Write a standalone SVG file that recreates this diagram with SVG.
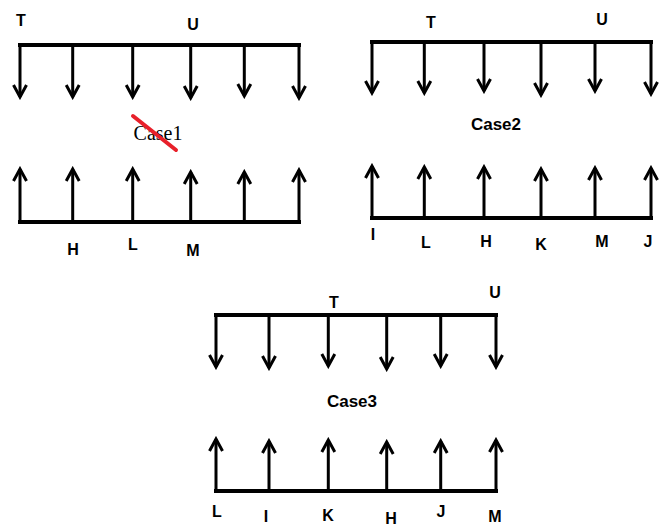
<svg xmlns="http://www.w3.org/2000/svg" width="666" height="526" viewBox="0 0 666 526">
<style>
.bar{stroke:#000;stroke-width:4;fill:none;stroke-linecap:square}
.sh{stroke:#000;stroke-width:3;fill:none;marker-end:url(#ah)}
.lb{font-family:"Liberation Sans",Arial,sans-serif;font-weight:bold;font-size:16px;fill:#000;text-anchor:middle}
.cs{font-family:"Liberation Sans",Arial,sans-serif;font-weight:bold;font-size:17px;fill:#000;text-anchor:middle}
.cs1{font-family:"Liberation Serif","Times New Roman",serif;font-size:20px;fill:#000;text-anchor:middle}
</style>
<defs>
<marker id="ah" viewBox="0 0 16 16" refX="13" refY="8" markerWidth="16" markerHeight="16" orient="auto" markerUnits="userSpaceOnUse">
<path d="M1,1.5 L13,8 L1,14.5" fill="none" stroke="#000" stroke-width="3"/>
</marker>
</defs>
<rect width="666" height="526" fill="#fff"/>
<g id="case1">
<line class="bar" x1="20" y1="45" x2="299" y2="45"/>
<line class="bar" x1="20" y1="222" x2="299" y2="222"/>
<text class="lb" x="21" y="26">T</text>
<text class="lb" x="193" y="30">U</text>
<text class="cs1" x="158" y="140">Case1</text>
<line x1="133" y1="116" x2="176" y2="150" stroke="#e8202a" stroke-width="4" stroke-linecap="round"/>
<text class="lb" x="73" y="255">H</text>
<text class="lb" x="133" y="250">L</text>
<text class="lb" x="193" y="256">M</text>
</g>
<g id="case2">
<line class="bar" x1="372" y1="42" x2="651" y2="42"/>
<line class="bar" x1="372" y1="218" x2="651" y2="218"/>
<text class="lb" x="431" y="28">T</text>
<text class="lb" x="602" y="25">U</text>
<text class="cs" x="496" y="130">Case2</text>
<text class="lb" x="373" y="240">I</text>
<text class="lb" x="426" y="248">L</text>
<text class="lb" x="486" y="247">H</text>
<text class="lb" x="541" y="250">K</text>
<text class="lb" x="602" y="247">M</text>
<text class="lb" x="648" y="247">J</text>
</g>
<g id="case3">
<line class="bar" x1="216" y1="315" x2="496" y2="315"/>
<line class="bar" x1="216" y1="491" x2="496" y2="491"/>
<text class="lb" x="334" y="308">T</text>
<text class="lb" x="495" y="298">U</text>
<text class="cs" x="352" y="407">Case3</text>
<text class="lb" x="217" y="517">L</text>
<text class="lb" x="266" y="522">I</text>
<text class="lb" x="328" y="521">K</text>
<text class="lb" x="391" y="524">H</text>
<text class="lb" x="441" y="517">J</text>
<text class="lb" x="495" y="522">M</text>
</g>
<g id="connectors">
<path class="sh" d="M20,45V97"/><path class="sh" d="M72.7,45V97"/><path class="sh" d="M132.7,45V97"/><path class="sh" d="M190.7,45V98"/><path class="sh" d="M244.3,45V96"/><path class="sh" d="M299,45V98"/>
<path class="sh" d="M20,222V169"/><path class="sh" d="M72.7,222V169"/><path class="sh" d="M132.7,222V169"/><path class="sh" d="M190.7,222V172"/><path class="sh" d="M244.3,222V172"/><path class="sh" d="M299,222V170"/>
<path class="sh" d="M372,42V93"/><path class="sh" d="M424.3,42V93"/><path class="sh" d="M484,42V91"/><path class="sh" d="M541,42V95"/><path class="sh" d="M595,42V91"/><path class="sh" d="M651,42V94"/>
<path class="sh" d="M372,218V166"/><path class="sh" d="M424.3,218V167"/><path class="sh" d="M484,218V167"/><path class="sh" d="M541,218V169"/><path class="sh" d="M595,218V168"/><path class="sh" d="M651,218V168"/>
<path class="sh" d="M216,315V367"/><path class="sh" d="M269,315V368"/><path class="sh" d="M328.3,315V366"/><path class="sh" d="M386.7,315V369"/><path class="sh" d="M440.7,315V366"/><path class="sh" d="M496,315V367"/>
<path class="sh" d="M216,491V439"/><path class="sh" d="M269,491V441"/><path class="sh" d="M328.3,491V440"/><path class="sh" d="M386.7,491V442"/><path class="sh" d="M440.7,491V441"/><path class="sh" d="M496,491V440"/>
</g>
</svg>
